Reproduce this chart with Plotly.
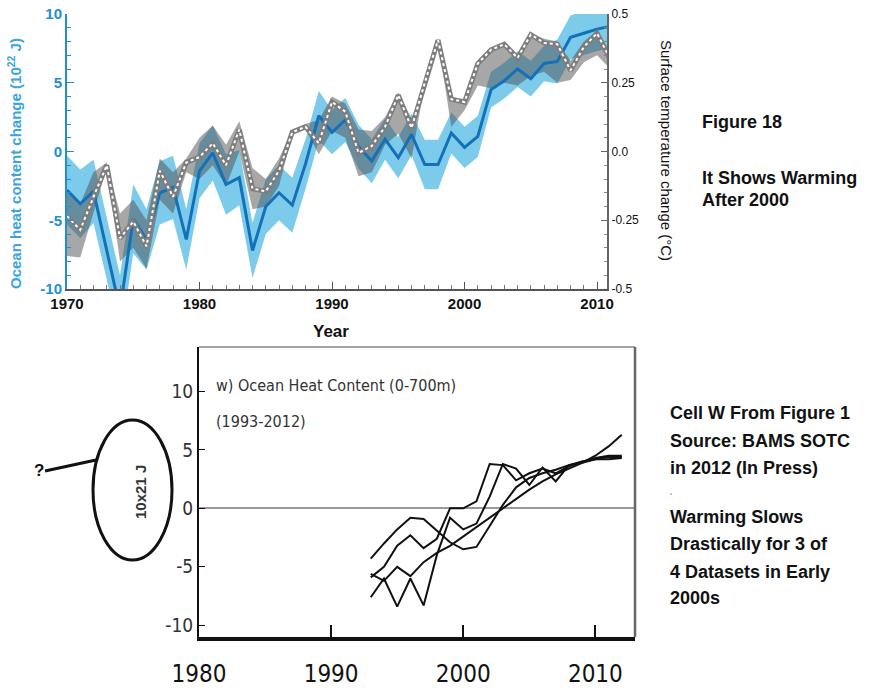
import plotly.graph_objects as go

W, H = 893, 691

# ---------------- top panel data ----------------
years = list(range(1970, 2012))
ohc = [-2.8, -3.8, -2.9, -7.0, -11.5, -4.9, -6.4, -3.0, -2.6, -6.4,
       -1.4, -0.1, -2.4, -1.9, -7.2, -4.0, -3.0, -3.9, -0.9, 2.6,
       1.4, 2.3, 0.35, -0.7, 0.9, -0.45, 1.25, -0.95, -0.95, 1.35,
       0.3, 1.1, 4.5, 5.15, 6.0, 5.3, 6.4, 6.55, 8.3, 8.6,
       8.9, 9.1]
ohc_err = [2.5, 2.5, 2.3, 2.3, 2.5, 2.5, 2.2, 2.3, 2.3, 2.2,
           2.0, 2.0, 2.2, 2.0, 2.0, 2.0, 2.0, 2.0, 1.8, 1.8,
           1.6, 1.6, 1.6, 1.6, 1.5, 1.5, 1.5, 1.8, 1.8, 1.5,
           1.5, 1.5, 1.3, 1.3, 1.3, 1.3, 1.3, 1.6, 1.6, 1.6,
           1.6, 1.6]
temp = [-0.235, -0.285, -0.165, -0.05, -0.315, -0.255, -0.345, -0.07, -0.165, -0.04,
        -0.02, 0.03, -0.05, 0.08, -0.135, -0.145, -0.07, 0.07, 0.09, 0.03,
        0.18, 0.145, -0.005, 0.02, 0.09, 0.205, 0.085, 0.25, 0.405, 0.19,
        0.18, 0.32, 0.37, 0.39, 0.34, 0.425, 0.395, 0.39, 0.295, 0.38,
        0.43, 0.335]
temp_lo = [-0.38, -0.385, -0.225, -0.06, -0.40, -0.35, -0.425, -0.175, -0.225, -0.075,
           -0.10, -0.05, -0.125, 0.0, -0.21, -0.20, -0.125, 0.06, 0.08, -0.01,
           0.075, 0.05, -0.09, -0.075, 0.025, 0.065, -0.025, 0.245, 0.40, 0.09,
           0.15, 0.24, 0.23, 0.25, 0.24, 0.275, 0.29, 0.25, 0.26, 0.325,
           0.35, 0.30]
temp_hi = [-0.15, -0.19, -0.075, -0.04, -0.225, -0.175, -0.25, -0.025, -0.075, -0.025,
           0.05, 0.095, 0.025, 0.11, -0.06, -0.10, -0.025, 0.08, 0.10, 0.115,
           0.20, 0.175, 0.08, 0.075, 0.125, 0.215, 0.12, 0.255, 0.41, 0.19,
           0.18, 0.32, 0.37, 0.39, 0.35, 0.43, 0.41, 0.40, 0.33, 0.40,
           0.44, 0.36]
top_xticks = [1970, 1980, 1990, 2000, 2010]
ohc_ticks = [-10, -5, 0, 5, 10]
ohc_ticktext = ["-10", "-5", "0", "5", "10"]
temp_ticks = [-0.5, -0.25, 0.0, 0.25, 0.5]
temp_ticktext = ["-0.5", "-0.25", "0.0", "0.25", "0.5"]

# ---------------- bottom panel data ----------------
bams_years = list(range(1993, 2013))
bams_a = [-4.3, -3.0, -1.8, -0.8, -0.9, -1.9, -2.9, -3.5, -3.3, -1.5,
          0.3, 1.8, 2.6, 3.0, 3.3, 3.7, 4.0, 4.2, 4.4, 4.4]
bams_b = [-5.9, -5.0, -3.2, -2.3, -3.4, -2.6, 0.0, 0.0, 0.6, 3.8,
          3.7, 2.4, 3.0, 3.4, 3.0, 3.6, 4.0, 4.3, 4.5, 4.5]
bams_c = [-7.6, -6.0, -8.4, -6.0, -8.3, -4.0, -0.8, -1.8, -1.3, 1.0,
          3.8, 3.4, 2.0, 3.5, 2.3, 3.7, 3.9, 4.2, 4.2, 4.3]
bams_d = [-5.6, -6.2, -5.0, -5.8, -4.6, -3.8, -3.2, -2.4, -1.6, -0.8,
          0.0, 0.8, 1.6, 2.3, 2.9, 3.4, 3.9, 4.5, 5.3, 6.3]
bams_xticks = [1980, 1990, 2000, 2010]
bams_yticks = [-10, -5, 0, 5, 10]
bams_yticktext = ["-10", "-5", "0", "5", "10"]


def fx(p):
    return p / W


def fy(p):
    return 1 - p / H


BLUE_AX = "#1e8fd2"
BLUE_LINE = "#1470b8"
BLUE_BAND = "#7ccbeb"
NARROW = "DejaVu Sans Condensed, Liberation Sans Narrow, Arial Narrow, sans-serif"
ARIAL = "Liberation Sans, Arial, sans-serif"

fig = go.Figure()

ohc_hi = [v + e for v, e in zip(ohc, ohc_err)]
ohc_lo = [v - e for v, e in zip(ohc, ohc_err)]
fig.add_trace(go.Scatter(x=years + years[::-1], y=ohc_hi + ohc_lo[::-1],
                         fill="toself", fillcolor=BLUE_BAND, line=dict(width=0),
                         mode="lines", xaxis="x", yaxis="y",
                         hoverinfo="skip", showlegend=False))

fig.add_trace(go.Scatter(x=years + years[::-1], y=temp_hi + temp_lo[::-1],
                         fill="toself", fillcolor="rgba(80,80,80,0.5)",
                         line=dict(width=0), mode="lines", xaxis="x", yaxis="y2",
                         hoverinfo="skip", showlegend=False))

fig.add_trace(go.Scatter(x=years, y=ohc, mode="lines",
                         line=dict(color=BLUE_LINE, width=3),
                         xaxis="x", yaxis="y3", showlegend=False))

fig.add_trace(go.Scatter(x=years, y=temp, mode="lines",
                         line=dict(color="#7d7d7d", width=5),
                         xaxis="x", yaxis="y4", showlegend=False))
fig.add_trace(go.Scatter(x=years, y=temp, mode="lines",
                         line=dict(color="white", width=2, dash="dot"),
                         xaxis="x", yaxis="y4", showlegend=False))

for s in (bams_a, bams_b, bams_c, bams_d):
    fig.add_trace(go.Scatter(x=bams_years, y=s, mode="lines",
                             line=dict(color="#111111", width=2),
                             xaxis="x3", yaxis="y5", showlegend=False))

top_xdom = [fx(67), fx(607)]
top_ydom = [fy(289), fy(14)]
bot_xdom = [fx(199), fx(635)]
bot_ydom = [fy(637), fy(347)]

fig.update_layout(
    width=W, height=H, margin=dict(l=0, r=0, t=0, b=0, autoexpand=False),
    paper_bgcolor="white", plot_bgcolor="rgba(0,0,0,0)",
    showlegend=False,
    xaxis=dict(domain=top_xdom, anchor="y", range=[1970, 2010.75], automargin=False,
               showline=True, linecolor="#555555", linewidth=2,
               ticks="inside", tickmode="array", tickvals=top_xticks,
               ticklen=7, tickcolor="#555555",
               minor=dict(dtick=1, tick0=1970, ticks="inside", ticklen=4, tickcolor="#777777",
                          showgrid=False),
               tickfont=dict(family=ARIAL, size=15, color="#111111", weight="bold"),
               showgrid=False, zeroline=False),
    xaxis2=dict(overlaying="x", side="top", anchor="y", range=[1970, 2010.75],
                automargin=False,
                showline=True, linecolor=BLUE_AX, linewidth=2,
                ticks="inside", tickmode="array", tickvals=top_xticks, ticklen=6,
                tickcolor=BLUE_AX, showticklabels=False, showgrid=False, zeroline=False),
    yaxis=dict(domain=top_ydom, anchor="x", range=[-10, 10], automargin=False,
               showline=True, linecolor=BLUE_AX, linewidth=2,
               ticks="inside", tickmode="array", tickvals=ohc_ticks,
               ticktext=ohc_ticktext, ticklen=7, tickcolor=BLUE_AX,
               minor=dict(dtick=1, tick0=0, ticks="inside", ticklen=4, tickcolor=BLUE_AX,
                          showgrid=False),
               tickfont=dict(family=ARIAL, size=15, color=BLUE_AX, weight="bold"),
               showgrid=False, zeroline=False),
    yaxis2=dict(overlaying="y", side="right", anchor="x", range=[-0.5, 0.5],
                automargin=False,
                showline=True, linecolor="#666666", linewidth=2,
                ticks="inside", tickmode="array", tickvals=temp_ticks,
                ticktext=temp_ticktext, ticklen=6, tickcolor="#666666",
                minor=dict(dtick=0.05, tick0=0, ticks="inside", ticklen=3,
                           tickcolor="#888888", showgrid=False),
                tickfont=dict(family=ARIAL, size=12, color="#111111"),
                showgrid=False, zeroline=False),
    yaxis3=dict(overlaying="y", anchor="x", range=[-10, 10], visible=False,
                automargin=False),
    yaxis4=dict(overlaying="y", anchor="x", range=[-0.5, 0.5], visible=False,
                automargin=False),
    xaxis3=dict(domain=bot_xdom, anchor="y5", range=[1980, 2013], automargin=False,
                showline=True, linecolor="#111111", linewidth=4,
                ticks="inside", tickmode="array", tickvals=bams_xticks,
                ticklen=12, tickwidth=2, tickcolor="#111111",
                tickfont=dict(family=NARROW, size=24, color="#111111"),
                ticklabelstandoff=12,
                showgrid=False, zeroline=False),
    yaxis5=dict(domain=bot_ydom, anchor="x3", range=[-11, 13.8], automargin=False,
                showline=True, linecolor="#111111", linewidth=2,
                ticks="inside", tickmode="array", tickvals=bams_yticks,
                ticktext=bams_yticktext, ticklen=6, tickcolor="#111111",
                tickfont=dict(family=NARROW, size=19, color="#333333"),
                showgrid=False, zeroline=True, zerolinecolor="#999999",
                zerolinewidth=2),
)

shapes = [
    dict(type="line", xref="x3 domain", yref="y5 domain", x0=0, x1=1, y0=1, y1=1,
         line=dict(color="#888888", width=1.5)),
    dict(type="line", xref="x3 domain", yref="y5 domain", x0=1, x1=1, y0=0, y1=1,
         line=dict(color="#666666", width=2.5)),
    dict(type="circle", xref="paper", yref="paper", x0=fx(93), x1=fx(172),
         y0=fy(560), y1=fy(420), line=dict(color="#111111", width=3)),
    dict(type="line", xref="paper", yref="paper", x0=fx(45), x1=fx(96),
         y0=fy(471), y1=fy(460), line=dict(color="#111111", width=3)),
]
fig.update_layout(shapes=shapes)


def ann(text, x, y, size, color="#111111", weight="normal", family=ARIAL,
        xanchor="left", angle=0):
    return dict(text=text, x=fx(x), y=fy(y), xref="paper", yref="paper",
                xanchor=xanchor, yanchor="middle", showarrow=False,
                textangle=angle,
                font=dict(family=family, size=size, color=color, weight=weight))


annotations = [
    ann("Ocean heat content change (10<sup>22</sup> J)", 15, 164, 15,
        color="#3aa5dd", weight="bold", xanchor="center", angle=-90),
    ann("Surface temperature change (°C)", 667, 150, 15, xanchor="center", angle=90),
    ann("Year", 331, 331, 17, weight="bold", xanchor="center"),
    ann("Figure 18", 700, 122, 18, weight="bold"),
    ann("It Shows Warming", 700, 178, 18, weight="bold"),
    ann("After 2000", 700, 200, 18, weight="bold"),
    ann("Cell W From Figure 1", 668, 413, 18, weight="bold"),
    ann("Source: BAMS SOTC", 668, 441, 18, weight="bold"),
    ann("in 2012 (In Press)", 668, 468, 18, weight="bold"),
    ann(".", 667, 490, 14, color="#999999"),
    ann("Warming Slows", 668, 517, 18, weight="bold"),
    ann("Drastically for 3 of", 668, 544, 18, weight="bold"),
    ann("4 Datasets in Early", 668, 572, 18, weight="bold"),
    ann("2000s", 668, 598, 18, weight="bold"),
    ann("w) Ocean Heat Content (0-700m)", 214, 385, 16, color="#333333", family=NARROW),
    ann("(1993-2012)", 214, 421, 16, color="#333333", family=NARROW),
    ann("?", 32, 470, 17, weight="bold"),
    ann("10x21 J", 141, 492, 15, color="#333333", weight="bold",
        xanchor="center", angle=-90),
]
fig.update_layout(annotations=annotations)

fig.write_html("out.html")
